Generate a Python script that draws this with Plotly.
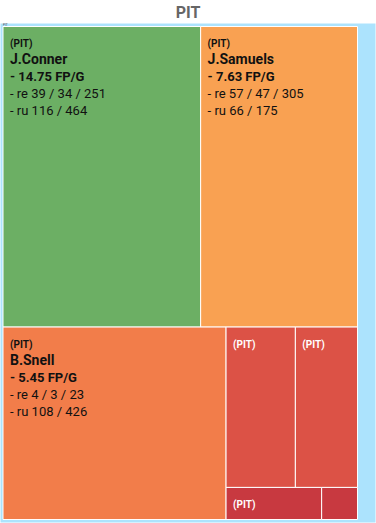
import plotly.graph_objects as go

team = "PIT"
player_ids = ["PIT/J.Conner", "PIT/J.Samuels", "PIT/B.Snell", "PIT/p4", "PIT/p5", "PIT/p6", "PIT/p7"]
player_names = ["J.Conner", "J.Samuels", "B.Snell", "", "", "", ""]
opportunities = [155, 123, 112, 29, 26, 8, 3]
fp_per_game = [14.75, 7.63, 5.45]
targets = [39, 57, 4]
receptions = [34, 47, 3]
rec_yards = [251, 305, 23]
rushes = [116, 66, 108]
rush_yards = [464, 175, 426]
tile_colors = ["#6caf64", "#f9a152", "#f27d4a", "#dc5246", "#dc5246", "#c83940", "#c83940"]
text_colors = ["#111111", "#111111", "#111111", "#ffffff", "#ffffff", "#ffffff", "#ffffff"]

NB = "\u00a0"
DUMMY = f"<span style='font-size:1px'>{NB}</span>"
IND = f"<span style='font-size:16px'>{NB}</span>"

ids = [team]
labels = [team]
parents = [""]
values = [sum(opportunities)]
texts = [""]
colors = ["#ace3fd"]
tcolors = ["#444444"]

for i, pid in enumerate(player_ids):
    ids.append(pid)
    labels.append(player_names[i] or team)
    parents.append(team)
    values.append(opportunities[i])
    colors.append(tile_colors[i])
    tcolors.append(text_colors[i])
    head = f"{IND}<span style='font-size:10px'><b>({team})</b></span>"
    if i < len(fp_per_game):
        lines = [
            DUMMY,
            head,
            f"{IND}<span style='font-size:14px'><b>{player_names[i]}</b></span>",
            f"{IND}<b>- {fp_per_game[i]:.2f} FP/G</b>",
            f"{IND}- re {targets[i]} / {receptions[i]} / {rec_yards[i]}",
            f"{IND}- ru {rushes[i]} / {rush_yards[i]}",
        ]
        texts.append("<br>".join(lines))
    elif opportunities[i] >= 5:
        texts.append("<br>".join([DUMMY, head]))
    else:
        texts.append("")

fig = go.Figure(
    go.Treemap(
        ids=ids,
        labels=labels,
        parents=parents,
        values=values,
        text=texts,
        branchvalues="total",
        textinfo="text",
        textposition="top left",
        sort=True,
        textfont=dict(family="Roboto", size=13, color=tcolors),
        marker=dict(
            colors=colors,
            line=dict(color="white", width=1),
            pad=dict(t=3.5, l=3, r=18.5, b=3.5),
        ),
        tiling=dict(packing="squarify", squarifyratio=1.618, pad=0),
        pathbar=dict(visible=False),
        hoverinfo="none",
    )
)

fig.update_layout(
    width=376,
    height=523,
    margin=dict(l=0, r=0, t=23, b=0),
    paper_bgcolor="white",
    title=dict(
        text="<b>PIT</b>",
        x=0.5,
        xanchor="center",
        y=1 - 12.5 / 523,
        yanchor="middle",
        yref="container",
        font=dict(family="Roboto", size=16, color="#666666"),
    ),
)

fig.write_html(
    "out.html",
    config={"displayModeBar": False},
    post_script="document.body.style.margin='0';",
)
